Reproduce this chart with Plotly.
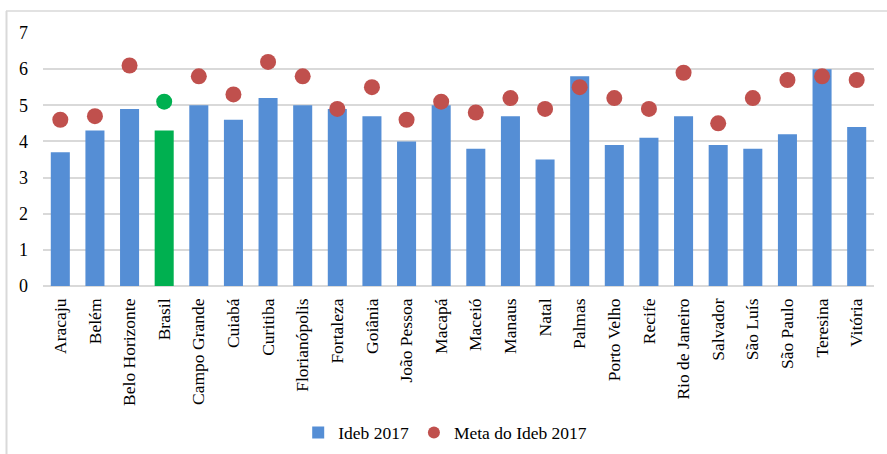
import plotly.graph_objects as go

cities = ["Aracaju", "Belém", "Belo Horizonte", "Brasil", "Campo Grande", "Cuiabá",
          "Curitiba", "Florianópolis", "Fortaleza", "Goiânia", "João Pessoa", "Macapá",
          "Maceió", "Manaus", "Natal", "Palmas", "Porto Velho", "Recife",
          "Rio de Janeiro", "Salvador", "São Luís", "São Paulo", "Teresina", "Vitória"]
ideb_2017 = [3.7, 4.3, 4.9, 4.3, 5.0, 4.6, 5.2, 5.0, 4.9, 4.7, 4.0, 5.0,
             3.8, 4.7, 3.5, 5.8, 3.9, 4.1, 4.7, 3.9, 3.8, 4.2, 6.0, 4.4]
meta_2017 = [4.6, 4.7, 6.1, 5.1, 5.8, 5.3, 6.2, 5.8, 4.9, 5.5, 4.6, 5.1,
             4.8, 5.2, 4.9, 5.5, 5.2, 4.9, 5.9, 4.5, 5.2, 5.7, 5.8, 5.7]
y_ticks = [0, 1, 2, 3, 4, 5, 6, 7]

BLUE = "#558ED5"
RED = "#C0504D"
GREEN = "#00B050"
highlight = "Brasil"

bar_colors = [GREEN if c == highlight else BLUE for c in cities]
dot_colors = [GREEN if c == highlight else RED for c in cities]

font = "Liberation Serif, Times New Roman, serif"

fig = go.Figure()
fig.add_trace(go.Bar(
    x=cities, y=ideb_2017, name="Ideb 2017",
    marker=dict(color=bar_colors, line=dict(width=0)),
    width=0.55,
))
fig.add_trace(go.Scatter(
    x=cities, y=meta_2017, name="Meta do Ideb 2017", mode="markers",
    marker=dict(color=dot_colors, size=16, line=dict(width=0)),
))

PW, PH = 831, 253
fig.update_layout(
    width=887, height=454,
    margin=dict(l=43, r=13, t=33, b=168, autoexpand=False),
    paper_bgcolor="white", plot_bgcolor="white",
    font=dict(family=font, size=17.5, color="black"),
    showlegend=True,
    legend=dict(orientation="h", x=0.484, xanchor="center", y=-0.58, yanchor="middle",
                font=dict(family=font, size=17.5), traceorder="normal",
                itemsizing="constant", itemwidth=30, tracegroupgap=0),
    xaxis=dict(range=[-0.5, len(cities) - 0.5], tickangle=-90, showgrid=False,
               showline=False, ticks="", tickfont=dict(family=font, size=17.5),
               ticklabelstandoff=8, automargin=False),
    yaxis=dict(range=[0, 7], tickvals=y_ticks, showgrid=True, gridcolor="#D9D9D9",
               gridwidth=1.5, zeroline=True, zerolinecolor="#D9D9D9", zerolinewidth=1.5,
               showline=False, ticks="", tickfont=dict(family=font, size=18),
               ticklabelstandoff=14, automargin=False),
    shapes=[
        dict(type="line", xref="paper", yref="paper", x0=-37/PW, x1=1.02,
             y0=1 + 22/PH, y1=1 + 22/PH, line=dict(color="#D9D9D9", width=1.5)),
        dict(type="line", xref="paper", yref="paper", x0=-36.5/PW, x1=-36.5/PW,
             y0=1 + 22/PH, y1=-168/PH, line=dict(color="#D9D9D9", width=2)),
    ],
)

fig.write_html("out.html", config={"displayModeBar": False},
               post_script="document.body.style.margin='0';")
